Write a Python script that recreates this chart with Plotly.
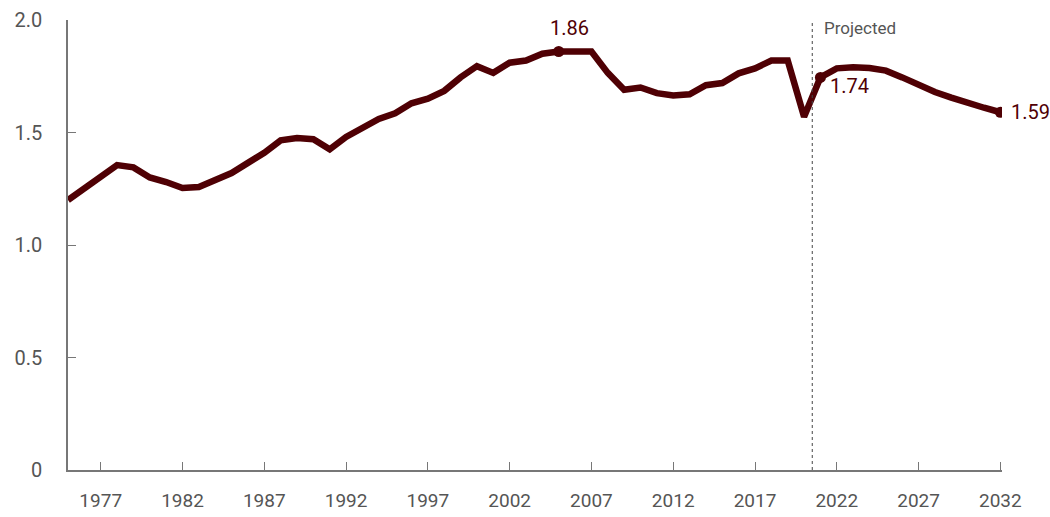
import plotly.graph_objects as go

years = list(range(1975, 2033))
values = [1.20, 1.25, 1.30, 1.355, 1.345, 1.30, 1.28, 1.253, 1.258, 1.29,
          1.32, 1.365, 1.41, 1.465, 1.475, 1.47, 1.425, 1.48, 1.52, 1.56,
          1.585, 1.63, 1.65, 1.685, 1.745, 1.795, 1.765, 1.81, 1.82, 1.85,
          1.86, 1.86, 1.86, 1.765, 1.69, 1.70, 1.675, 1.665, 1.67, 1.71,
          1.72, 1.763, 1.785, 1.82, 1.82, 1.57, 1.745, 1.785, 1.79, 1.787,
          1.775, 1.745, 1.71, 1.68, 1.655, 1.63, 1.61, 1.59]
labeled_years = [2005, 2021, 2032]
labeled_text = ["1.86", "1.74", "1.59"]
projection_start = 2020.5
x_ticks = [1977, 1982, 1987, 1992, 1997, 2002, 2007, 2012, 2017, 2022, 2027, 2032]
y_ticks = [0, 0.5, 1.0, 1.5, 2.0]
y_tick_text = ["0", "0.5", "1.0", "1.5", "2.0"]

LINE = "#4f0004"
GRAY = "#555555"
AX = "#777777"

fig = go.Figure()
fig.add_trace(go.Scatter(x=years, y=values, mode="lines",
                         line=dict(color=LINE, width=6.5), hoverinfo="skip",
                         showlegend=False))
lab_vals = [values[years.index(y)] for y in labeled_years]
fig.add_trace(go.Scatter(x=labeled_years, y=lab_vals, mode="markers",
                         marker=dict(color=LINE, size=11), hoverinfo="skip",
                         showlegend=False))

# labels
fig.add_annotation(x=labeled_years[0], y=lab_vals[0], text=labeled_text[0],
                   showarrow=False, yshift=24, xshift=11,
                   font=dict(size=20, color=LINE, family="Roboto"))
fig.add_annotation(x=labeled_years[1], y=lab_vals[1], text=labeled_text[1],
                   showarrow=False, xanchor="left", xshift=8, yshift=-9,
                   font=dict(size=20, color=LINE, family="Roboto"))
fig.add_annotation(x=labeled_years[2], y=lab_vals[2], text=labeled_text[2],
                   showarrow=False, xanchor="left", xshift=9, yshift=0,
                   font=dict(size=20, color=LINE, family="Roboto"))

fig.add_shape(type="line", x0=projection_start, x1=projection_start, y0=0, y1=2.0,
              xref="x", yref="y", line=dict(color="#444444", width=1, dash="dot"))
fig.add_annotation(x=projection_start, y=2.0, text="Projected", showarrow=False,
                   xanchor="left", yanchor="middle", xshift=10, yshift=-8,
                   font=dict(size=17, color=GRAY, family="Roboto"))

fig.update_layout(
    width=1050, height=517,
    margin=dict(l=68, r=48, t=20, b=47),
    paper_bgcolor="white", plot_bgcolor="white",
    font=dict(family="Roboto", color=GRAY),
)
fig.update_xaxes(range=[1975, 2032.1], tickvals=x_ticks, ticks="inside", ticklen=8,
                 tickcolor=AX, showline=True, linecolor=AX, linewidth=1.5,
                 showgrid=False, zeroline=False, automargin=False,
                 tickfont=dict(size=19, color=GRAY, family="Roboto"),
                 ticklabelstandoff=12)
fig.update_yaxes(range=[0, 2.0], tickvals=y_ticks, ticktext=y_tick_text,
                 ticks="inside", ticklen=8, tickcolor=AX, showline=True,
                 linecolor=AX, linewidth=1.5, showgrid=False, zeroline=False,
                 automargin=False,
                 tickfont=dict(size=20, color=GRAY, family="Roboto"),
                 ticklabelstandoff=20)

fig.write_html("out.html", config={"displayModeBar": False},
               post_script="document.body.style.margin='0';document.body.style.overflow='hidden';")
